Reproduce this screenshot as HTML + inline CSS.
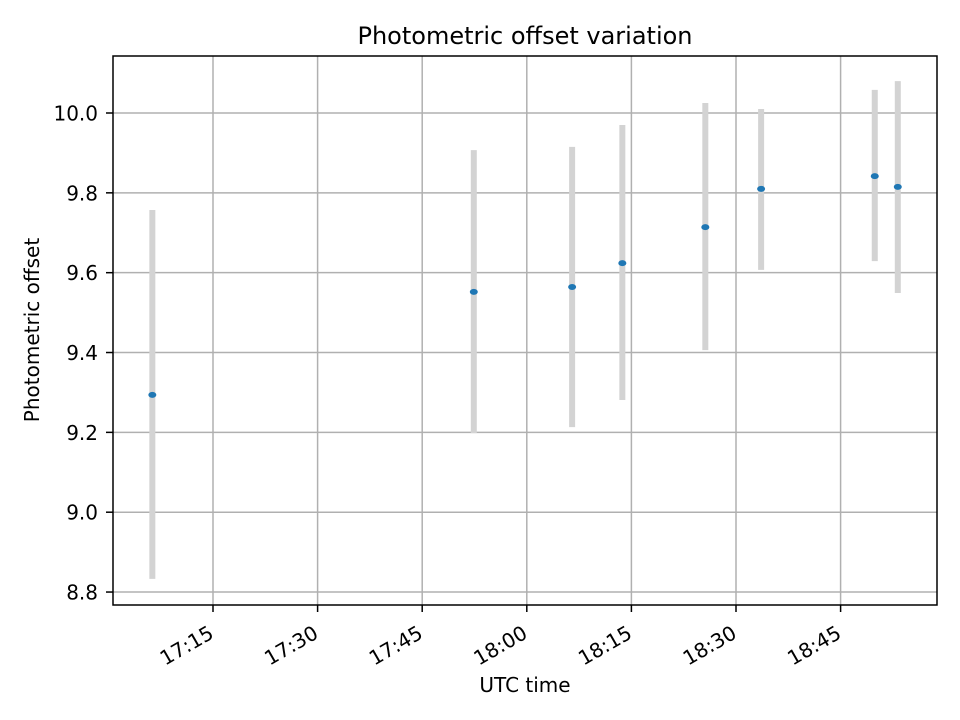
<!DOCTYPE html>
<html><head><meta charset="utf-8"><style>body{margin:0;background:#fff}svg{display:block;font-family:"DejaVu Sans","Liberation Sans",sans-serif}</style></head>
<body>
<svg id="c" width="960" height="720"></svg>
<script>
const times=["17:06.3","17:52.4","18:06.5","18:13.7","18:25.6","18:33.6","18:49.9","18:53.2"];
const values=[9.294,9.552,9.564,9.624,9.714,9.810,9.842,9.815];
const upper=[9.757,9.907,9.915,9.970,10.025,10.010,10.058,10.080];
const lower=[8.833,9.198,9.213,9.281,9.406,9.607,9.629,9.549];
const yTicks=[8.8,9.0,9.2,9.4,9.6,9.8,10.0];
const xTicks=["17:15","17:30","17:45","18:00","18:15","18:30","18:45"];
const L=113,R=937,T=56,B=605;
function tm(s){const [h,m]=s.split(":");return +h*60+ +m;}
const x=t=>213+(tm(t)-tm("17:15"))*(104.6/15);
const y=v=>113+(10-v)*399.2;
const svg=document.getElementById('c');const NS="http://www.w3.org/2000/svg";
function mk(tag,a,p){const e=document.createElementNS(NS,tag);for(const k in a)e.setAttribute(k,a[k]);(p||svg).appendChild(e);return e;}
const title=mk('text',{x:525,y:44,'text-anchor':'middle','font-size':24,fill:'#000'});title.textContent="Photometric offset variation";

const grid=mk('g',{});
yTicks.forEach(v=>{const yy=y(v);mk('line',{x1:L,x2:R,y1:yy,y2:yy,stroke:'#b0b0b0','stroke-width':1.5},grid);
mk('line',{x1:L-7,x2:L,y1:yy,y2:yy,stroke:'#000','stroke-width':1.5});
const t=mk('text',{x:L-15,y:yy+7.5,'text-anchor':'end','font-size':20});t.textContent=v.toFixed(1);
});
xTicks.forEach(s=>{const xx=x(s);mk('line',{x1:xx,x2:xx,y1:T,y2:B,stroke:'#b0b0b0','stroke-width':1.5},grid);
mk('line',{x1:xx,x2:xx,y1:B,y2:B+7,stroke:'#000','stroke-width':1.5});
const ax=xx+2,ay=B+32;
const t=mk('text',{x:ax,y:ay,'text-anchor':'end','font-size':20,transform:`rotate(-30 ${ax} ${ay})`});t.textContent=s;
});
const series=mk('g',{});
times.forEach((t,i)=>{const xx=x(t);
const eb=mk('line',{x1:xx,x2:xx,y1:y(upper[i]),y2:y(lower[i]),stroke:'#d3d3d3','stroke-width':6},series);
});
times.forEach((t,i)=>{const p=mk('ellipse',{cx:x(t),cy:y(values[i]),rx:4,ry:3,fill:'#1f77b4'},series);
});
const fr=mk('rect',{x:L,y:T,width:R-L,height:B-T,fill:'none',stroke:'#000','stroke-width':1.5});

const xl=mk('text',{x:525,y:692,'text-anchor':'middle','font-size':20});xl.textContent="UTC time";

const yl=mk('text',{x:330,y:39,'text-anchor':'middle','font-size':20,transform:'rotate(-90 330 39) translate(-660 0)'});
yl.setAttribute('x',-330);yl.setAttribute('y',39);yl.setAttribute('transform','rotate(-90)');
yl.textContent="Photometric offset";

</script>
</body></html>
